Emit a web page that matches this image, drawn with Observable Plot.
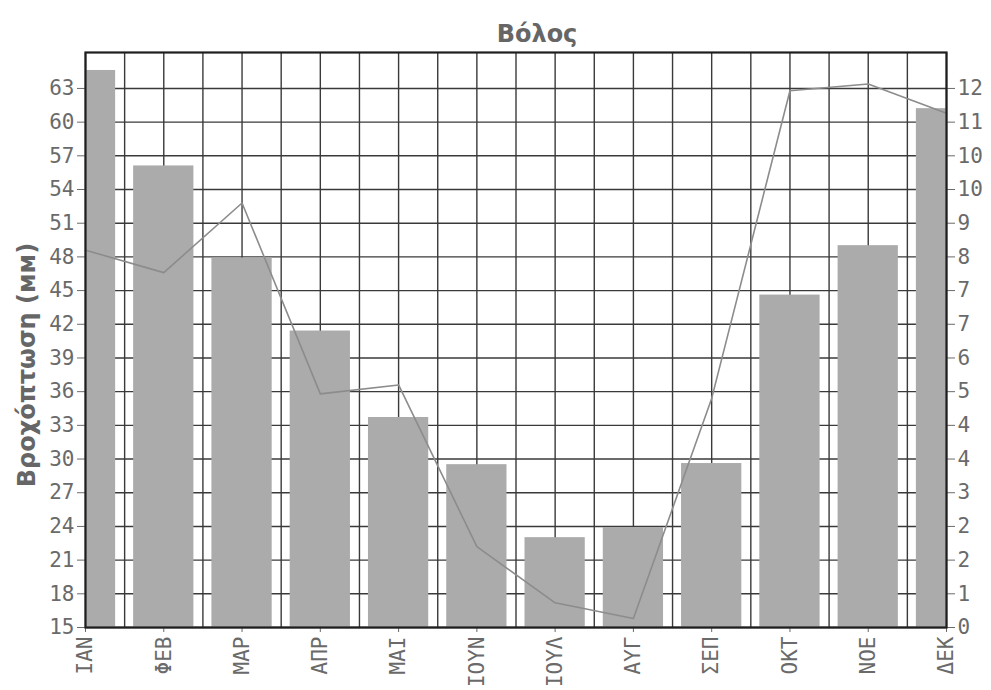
<!DOCTYPE html>
<html><head><meta charset="utf-8">
<script src="https://cdn.jsdelivr.net/npm/d3@7"></script>
<script src="https://cdn.jsdelivr.net/npm/@observablehq/plot@0.6"></script>
<style>body{margin:0;background:#fff;overflow:hidden}</style>
</head><body><div id="chart"></div>
<script>
const title = "Βόλος";
const yLabel = "Βροχόπτωση (мм)";
const months = ["ΙΑΝ","ΦΕΒ","ΜΑΡ","ΑΠΡ","ΜΑΙ","ΙΟΥΝ","ΙΟΥΛ","ΑΥΓ","ΣΕΠ","ΟΚΤ","ΝΟΕ","ΔΕΚ"];
const rainfall = [64.6, 56.1, 47.9, 41.4, 33.7, 29.5, 23.0, 23.9, 29.6, 44.6, 49.0, 61.2];
const secondary = [8.4, 7.9, 9.45, 5.2, 5.4, 1.8, 0.55, 0.2, 5.1, 11.95, 12.1, 11.45];
const leftTicks = [15,18,21,24,27,30,33,36,39,42,45,48,51,54,57,60,63];
const rightTicks = [0,0.75,1.5,2.25,3,3.75,4.5,5.25,6,6.75,7.5,8.25,9,9.75,10.5,11.25,12];
const rightTickLabels = ["0","1","2","2","3","4","4","5","6","7","7","8","9","10","10","11","12"];

// secondary axis mapped onto the primary scale: 0 -> 15, 12 -> 63
const toLeft = r => 15 + r * 4;
const data = months.map((m, i) => ({i, month: m, rain: rainfall[i], sec: secondary[i]}));
const halfSteps = d3.range(0, 11.001, 0.5);
const tickFont = "DejaVu Sans Mono";

const chart = Plot.plot({
  width: 991,
  height: 690,
  marginLeft: 85,
  marginRight: 45,
  marginTop: 52,
  marginBottom: 63,
  style: {background: "#fff", fontFamily: tickFont},
  x: {type: "linear", domain: [0, 11], axis: null},
  y: {domain: [15, 66.2], axis: null},
  marks: [
    Plot.gridY(leftTicks, {stroke: "#3a3a3a", strokeOpacity: 1, strokeWidth: 1.4}),
    Plot.gridX(halfSteps, {stroke: "#3a3a3a", strokeOpacity: 1, strokeWidth: 1.4}),
    Plot.rectY(data, {x1: d => d.i - 0.385, x2: d => d.i + 0.385, y1: 15, y2: "rain", fill: "#ababab", clip: true}),
    Plot.line(data, {x: "i", y: d => toLeft(d.sec), stroke: "#8c8c8c", strokeWidth: 1.6}),
    Plot.axisY(leftTicks, {anchor: "left", label: null, tickSize: 8, tickPadding: 3, fontSize: 21, color: "#6a6a6a", stroke: "#6a6a6a"}),
    Plot.axisY(rightTicks.map(toLeft), {anchor: "right", label: null, tickSize: 8, tickPadding: 3, fontSize: 21, color: "#6a6a6a", stroke: "#6a6a6a",
      tickFormat: d => rightTickLabels[rightTicks.findIndex(r => Math.abs(toLeft(r) - d) < 1e-9)]}),
    Plot.axisX(d3.range(12), {anchor: "bottom", label: null, tickSize: 5, tickPadding: 4, tickRotate: -90, fontSize: 21, color: "#6a6a6a", stroke: "#6a6a6a",
      tickFormat: i => months[i]}),
    Plot.frame({stroke: "#1e1e1e", strokeWidth: 2.2}),
    Plot.text([title], {frameAnchor: "top", dx: 21, dy: -11, lineAnchor: "bottom", fontSize: 24, fontWeight: "bold", fill: "#666", fontFamily: "DejaVu Sans"}),
    Plot.text([yLabel], {frameAnchor: "left", textAnchor: "middle", rotate: -90, dx: -58, dy: 25, fontSize: 24, fontWeight: "bold", fill: "#666", fontFamily: "DejaVu Sans"})
  ]
});
document.getElementById("chart").appendChild(chart);
</script>
</body></html>
